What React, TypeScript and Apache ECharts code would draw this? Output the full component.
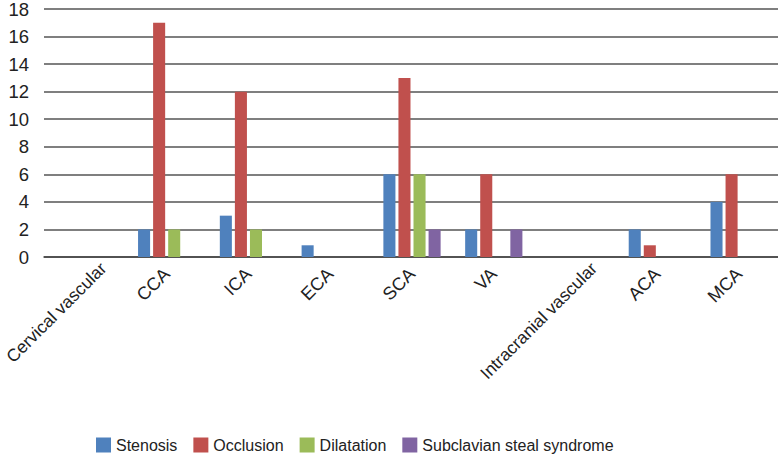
import React, { useEffect, useRef } from "react";
import * as echarts from "echarts";

const categories = ["Cervical vascular", "CCA", "ICA", "ECA", "SCA", "VA", "Intracranial vascular", "ACA", "MCA"];
const groupLabels = ["Cervical vascular", "Intracranial vascular"];
const stenosis = [null, 2, 3, 0.85, 6, 2, null, 2, 4];
const occlusion = [null, 17, 12, null, 13, 6, null, 0.85, 6];
const dilatation = [null, 2, 2, null, 6, null, null, null, null];
const subclavian = [null, null, null, null, 2, 2, null, null, null];
const seriesNames = ["Stenosis", "Occlusion", "Dilatation", "Subclavian steal syndrome"];
const colors = ["#4F81BD", "#C0504D", "#9BBB59", "#8064A2"];

export default function App() {
  const ref = useRef<HTMLDivElement>(null);
  useEffect(() => {
    if (!ref.current) return;
    const chart = echarts.init(ref.current, null, { renderer: "svg" });
    const font = "'Liberation Sans', Arial, sans-serif";
    const data = [stenosis, occlusion, dilatation, subclavian];
    chart.setOption({
      animation: false,
      textStyle: { fontFamily: font },
      grid: { left: 44, right: -2, top: 9, bottom: 203, containLabel: false, outerBoundsMode: "none" },
      legend: {
        data: seriesNames,
        top: 437,
        left: 96,
        padding: 0,
        itemWidth: 15,
        itemHeight: 15,
        itemGap: 16,
        icon: "rect",
        textStyle: { fontSize: 16, color: "#222", fontFamily: font },
      },
      xAxis: {
        type: "category",
        data: categories.map((c) =>
          groupLabels.includes(c)
            ? { value: c, textStyle: { verticalAlign: "top", fontSize: 17.5, padding: [0, -17, 0, 0] } }
            : c
        ),
        axisLine: { show: true, lineStyle: { color: "#444", width: 1.5 } },
        axisTick: { show: false },
        axisLabel: { rotate: 45, fontSize: 18, color: "#222", margin: 14, interval: 0, fontFamily: font },
      },
      yAxis: {
        type: "value",
        min: 0,
        max: 18,
        interval: 2,
        axisLine: { show: false },
        axisTick: { show: false },
        splitLine: { lineStyle: { color: "#555", width: 1.5 } },
        axisLabel: { fontSize: 18.5, color: "#222", margin: 15, fontFamily: font },
      },
      series: seriesNames.map((name, i) => ({
        name,
        type: "bar",
        data: data[i],
        itemStyle: { color: colors[i] },
        barGap: "25%",
        barCategoryGap: "30%",
      })),
    });
    return () => chart.dispose();
  }, []);
  return <div ref={ref} style={{ position: "absolute", left: 0, top: 0, width: 778, height: 460 }} />;
}
